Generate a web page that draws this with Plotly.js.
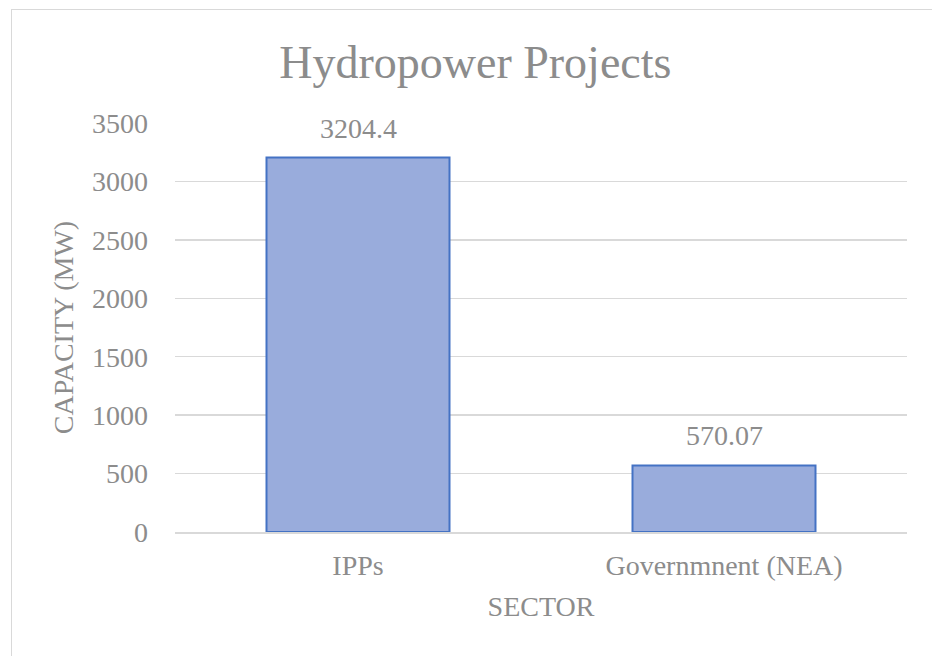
<!DOCTYPE html>
<html>
<head>
<meta charset="utf-8">
<script src="https://cdn.plot.ly/plotly-3.0.1.min.js"></script>
<style>
  html, body { margin: 0; padding: 0; background: #fff; }
  #frame { position: absolute; left: 11px; top: 9px; width: 940px; height: 660px;
           border-left: 1px solid #d9d9d9; border-top: 1px solid #d9d9d9; }
  #chart { position: absolute; left: 0; top: 0; width: 932px; height: 656px; }
</style>
</head>
<body>
<div id="frame"></div>
<div id="chart"></div>
<script>
// Hydropower capacity by sector
const sectors = ['IPPs', 'Governmnent (NEA)'];
const capacity = [3204.4, 570.07];
const capacityLabels = ['3204.4', '570.07'];
const yTicks = [0, 500, 1000, 1500, 2000, 2500, 3000, 3500];

const textGray = '#8c8c8c';
const font = { family: 'Liberation Serif, Times New Roman, serif', size: 28, color: textGray };

const layout = {
    width: 932,
    height: 656,
    paper_bgcolor: 'rgba(0,0,0,0)',
    plot_bgcolor: 'rgba(0,0,0,0)',
    font: font,
    margin: { t: 123, b: 124, l: 175, r: 25 },
    bargap: 0.5,
    showlegend: false,
    title: {
        text: 'Hydropower Projects',
        font: { family: font.family, size: 46, color: textGray },
        x: 0.51, xanchor: 'center',
        y: 1 - 62 / 656, yanchor: 'middle', yref: 'container',
    },
    xaxis: {
        type: 'category',
        title: { text: 'SECTOR', font: font, standoff: 17 },
        showgrid: false,
        showline: true, linecolor: '#d9d9d9', linewidth: 2,
        ticks: '', ticklabelstandoff: 7,
        automargin: false,
    },
    yaxis: {
        range: [0, 3500],
        tickvals: yTicks,
        title: { text: 'CAPACITY (MW)', font: font, standoff: 10 },
        gridcolor: '#d9d9d9', gridwidth: 1.5,
        zeroline: false,
        ticks: '', ticklabelstandoff: 26,
        automargin: false,
    },
    annotations: sectors.map((s, i) => ({
        x: s, y: capacity[i], xref: 'x', yref: 'y',
        text: capacityLabels[i], showarrow: false,
        yanchor: 'bottom', yshift: 12,
        font: font,
    })),
};

Plotly.newPlot('chart', [{
    type: 'bar',
    x: sectors,
    y: capacity,
    marker: {
        color: '#99acdc',
        line: { color: '#4472c4', width: 2 },
    },
    hoverinfo: 'none',
}], layout, { displayModeBar: false, staticPlot: true });
</script>
</body>
</html>
